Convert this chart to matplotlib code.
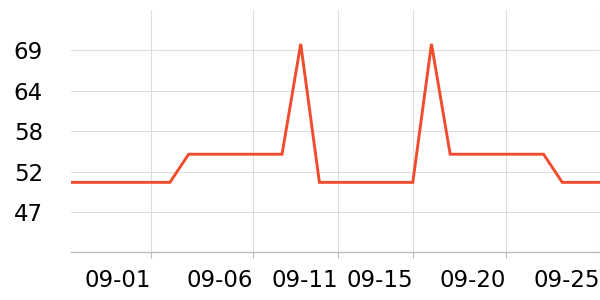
import numpy as np
import pandas as pd
import matplotlib
matplotlib.use('Agg')
import matplotlib.pyplot as plt
import matplotlib.dates as mdates

# daily values
dates = pd.date_range('2024-08-27', '2024-09-25', freq='D')
values = [50.9, 50.9, 50.9, 50.9, 50.9, 50.9, 50.9,
          54.8, 54.8, 54.8, 54.8, 54.8, 54.8,
          70.1,
          50.9, 50.9, 50.9, 50.9, 50.9, 50.9,
          70.1,
          54.8, 54.8, 54.8, 54.8, 54.8, 54.8,
          50.9, 50.9, 50.9]

xtick_labels = ['09-01', '09-06', '09-11', '09-15', '09-20', '09-25']
xtick_dates = pd.to_datetime(['2024-09-01 00:00', '2024-09-06 11:00', '2024-09-11 00:00',
                              '2024-09-15 00:00', '2024-09-20 00:00', '2024-09-25 00:00'])
ytick_values = [46.8, 52.4, 58.0, 63.6, 69.2]

fig = plt.figure(figsize=(6, 3), dpi=100)
ax = fig.add_axes([70.7/600, 47.7/300, 529.3/600, 242.3/300])

ax.plot(dates, values, color='#f04c2e', linewidth=2.1, solid_joinstyle='miter')

ax.set_xlim(pd.Timestamp('2024-08-27 16:30'), pd.Timestamp('2024-09-25 00:30'))
ax.set_ylim(41.2, 74.8)

ax.set_xticks(xtick_dates)
ax.set_xticklabels(xtick_labels, ha='right')
ax.set_yticks(ytick_values)
ax.set_yticklabels(['%.0f' % v for v in ytick_values])

ax.grid(True, color='#dddddd', linewidth=0.8)
ax.set_axisbelow(True)
for s in ['top', 'right', 'left']:
	ax.spines[s].set_visible(False)
ax.spines['bottom'].set_color('#bbbbbb')
ax.spines['bottom'].set_linewidth(1.0)

ax.tick_params(axis='x', length=4, color='#bbbbbb', labelsize=16.5, pad=8)
ax.tick_params(axis='y', length=0, labelsize=16.5, pad=20)

fig.savefig('out.png', dpi=100)
